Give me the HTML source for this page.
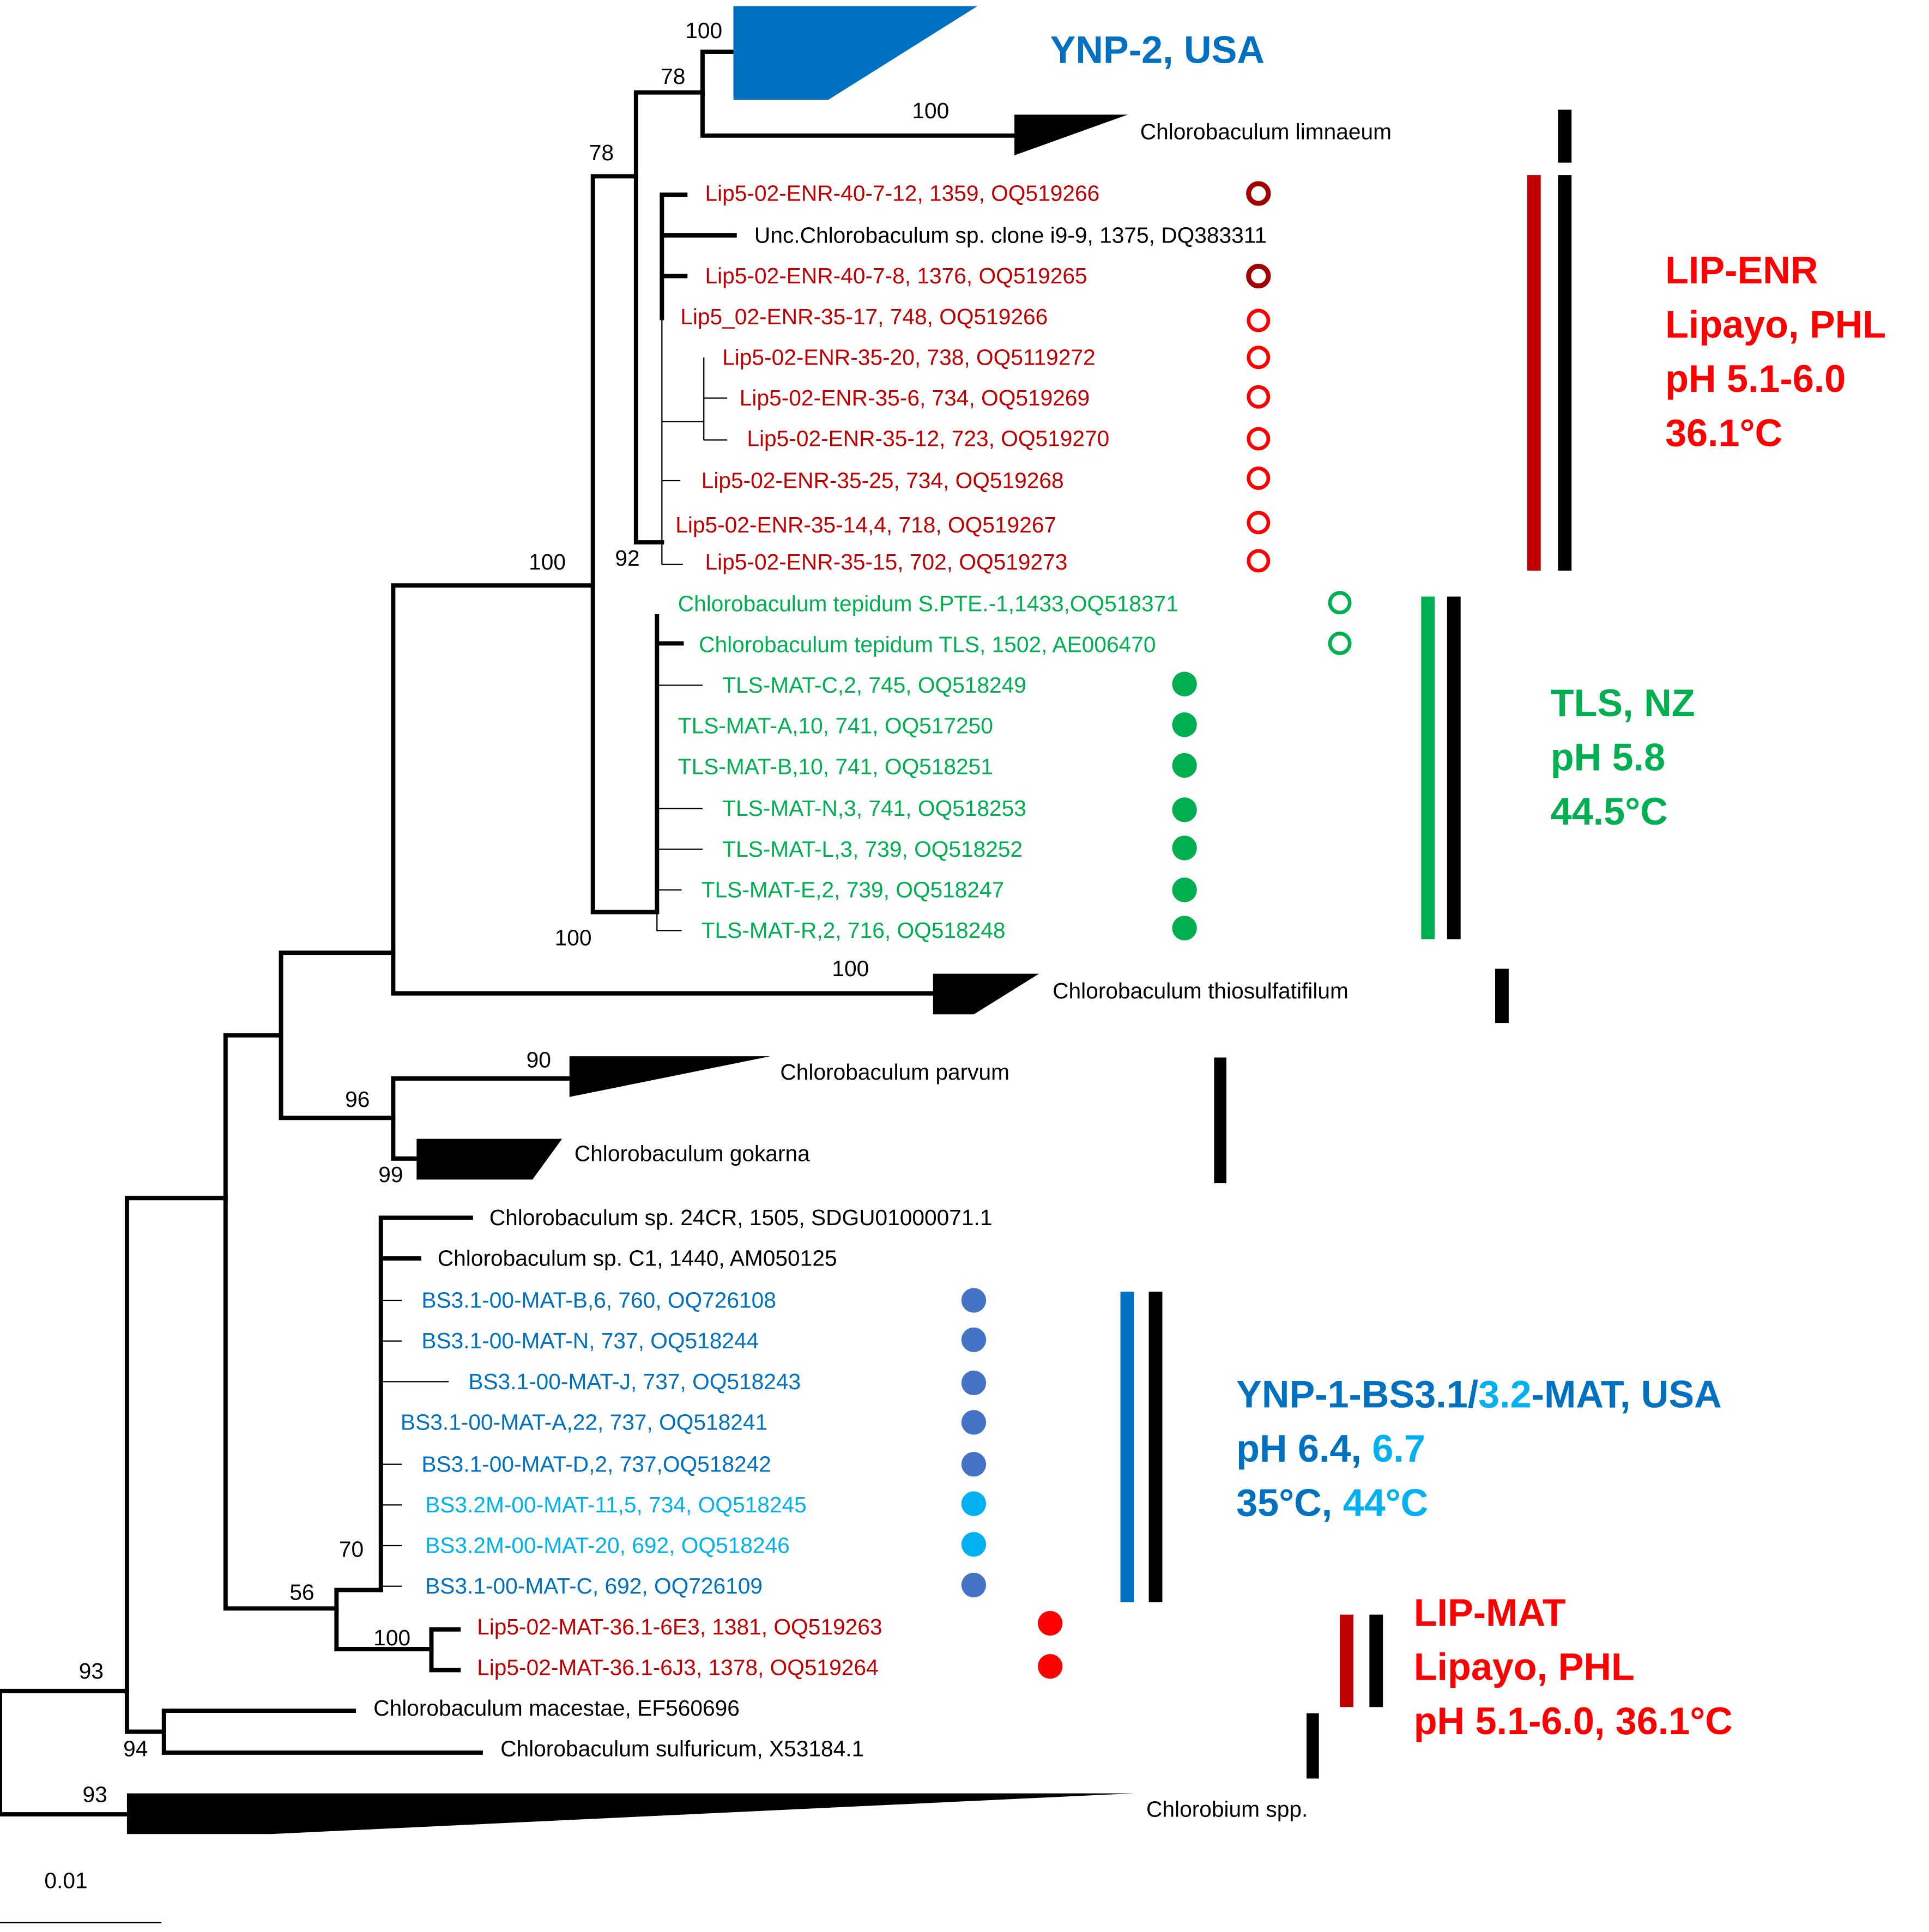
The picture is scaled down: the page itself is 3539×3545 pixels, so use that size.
<!DOCTYPE html>
<html><head><meta charset="utf-8"><style>html,body{margin:0;padding:0;background:#fff}svg{display:block}</style></head><body>
<svg width="3539" height="3545" viewBox="0 0 1565 1567.5" preserveAspectRatio="none" xmlns="http://www.w3.org/2000/svg" font-family="Liberation Sans, sans-serif">
<rect width="1565" height="1568" fill="#fff"/>
<g stroke="#000" stroke-width="3.5" fill="none" stroke-linecap="square">
<path d="M0,1372V1472M0,1372H103M0,1472H103"/>
<path d="M103,972V1405M103,972H183M103,1405H133M133,1388V1422M133,1388H287M133,1422H390"/>
<path d="M183,840V1305M183,840H228M183,1305H273"/>
<path d="M228,773V907M228,773H319M228,907H319"/>
<path d="M319,475V806M319,475H481M319,806H757"/>
<path d="M481,143V740M481,143H516M481,740H533"/>
<path d="M516,75V440M516,75H570M516,440H537"/>
<path d="M570,42V110M570,42H595M570,110H823"/>
<path d="M537,158V258M537,158H556M537,191H596M537,224H556"/>
<path d="M533,500V522M533,522H553"/>
<path d="M319,875V940M319,875H462M319,940H338"/>
<path d="M273,1290V1338M273,1290H309M273,1338H350"/>
<path d="M309,988V1290M309,988H382M309,1021H340"/>
<path d="M350,1322V1355M350,1322H372M350,1355H372"/>
<path d="M533,522V740"/>
</g>
<g stroke="#000" stroke-width="1" fill="none">
<path d="M537,258V458M537,342H571M571,290V357M571,323H590M571,357H590M537,390H552M537,458H554"/>
<path d="M533,740V755H553M533,556H570M533,656H570M533,689H570M533,722H553"/>
<path d="M309,1055H326M309,1088H326M309,1121H364M309,1188H326M309,1221H326M309,1254H326M309,1287H326"/>
<path d="M0,1560H131"/>
</g>
<polygon points="595,5 793,5 672,81 595,81" fill="#0070C0"/>
<polygon points="823,93 915,93 823,126" fill="#000"/>
<polygon points="757,790 843,790 790,823 757,823" fill="#000"/>
<polygon points="462,857 625,857 462,890" fill="#000"/>
<polygon points="338,924 456,924 432,957 338,957" fill="#000"/>
<polygon points="103,1455 920,1455 220,1488 103,1488" fill="#000"/>
<g font-size="18" fill="#000">
<text x="556" y="31">100</text><text x="536" y="68">78</text><text x="740" y="96">100</text>
<text x="478" y="130">78</text><text x="429" y="462">100</text><text x="499" y="459">92</text>
<text x="450" y="767">100</text><text x="675" y="792">100</text><text x="427" y="866">90</text>
<text x="280" y="898">96</text><text x="307" y="959">99</text><text x="275" y="1263">70</text>
<text x="235" y="1298">56</text><text x="303" y="1335">100</text><text x="64" y="1362">93</text>
<text x="100" y="1425">94</text><text x="67" y="1462">93</text><text x="36" y="1532">0.01</text>
<text x="925" y="113">Chlorobaculum limnaeum</text>
<text x="612" y="197">Unc.Chlorobaculum sp. clone i9-9, 1375, DQ383311</text>
<text x="854" y="810">Chlorobaculum thiosulfatifilum</text>
<text x="633" y="876">Chlorobaculum parvum</text>
<text x="466" y="942">Chlorobaculum gokarna</text>
<text x="397" y="994">Chlorobaculum sp. 24CR, 1505, SDGU01000071.1</text>
<text x="355" y="1027">Chlorobaculum sp. C1, 1440, AM050125</text>
<text x="303" y="1392">Chlorobaculum macestae, EF560696</text>
<text x="406" y="1425">Chlorobaculum sulfuricum, X53184.1</text>
<text x="930" y="1474">Chlorobium spp.</text>
</g>
<g font-size="18" fill="#C00000">
<text x="572" y="163">Lip5-02-ENR-40-7-12, 1359, OQ519266</text>
<text x="572" y="230">Lip5-02-ENR-40-7-8, 1376, OQ519265</text>
<text x="552" y="263">Lip5_02-ENR-35-17, 748, OQ519266</text>
<text x="586" y="296">Lip5-02-ENR-35-20, 738, OQ5119272</text>
<text x="600" y="329">Lip5-02-ENR-35-6, 734, OQ519269</text>
<text x="606" y="362">Lip5-02-ENR-35-12, 723, OQ519270</text>
<text x="569" y="396">Lip5-02-ENR-35-25, 734, OQ519268</text>
<text x="548" y="432">Lip5-02-ENR-35-14,4, 718, OQ519267</text>
<text x="572" y="462">Lip5-02-ENR-35-15, 702, OQ519273</text>
<text x="387" y="1326">Lip5-02-MAT-36.1-6E3, 1381, OQ519263</text>
<text x="387" y="1359">Lip5-02-MAT-36.1-6J3, 1378, OQ519264</text>
</g>
<g font-size="18" fill="#00B050">
<text x="550" y="496">Chlorobaculum tepidum S.PTE.-1,1433,OQ518371</text>
<text x="567" y="529">Chlorobaculum tepidum TLS, 1502, AE006470</text>
<text x="586" y="562">TLS-MAT-C,2, 745, OQ518249</text>
<text x="550" y="595">TLS-MAT-A,10, 741, OQ517250</text>
<text x="550" y="628">TLS-MAT-B,10, 741, OQ518251</text>
<text x="586" y="662">TLS-MAT-N,3, 741, OQ518253</text>
<text x="586" y="695">TLS-MAT-L,3, 739, OQ518252</text>
<text x="569" y="728">TLS-MAT-E,2, 739, OQ518247</text>
<text x="569" y="761">TLS-MAT-R,2, 716, OQ518248</text>
</g>
<g font-size="18" fill="#0070C0">
<text x="342" y="1061">BS3.1-00-MAT-B,6, 760, OQ726108</text>
<text x="342" y="1094">BS3.1-00-MAT-N, 737, OQ518244</text>
<text x="380" y="1127">BS3.1-00-MAT-J, 737, OQ518243</text>
<text x="325" y="1160">BS3.1-00-MAT-A,22, 737, OQ518241</text>
<text x="342" y="1194">BS3.1-00-MAT-D,2, 737,OQ518242</text>
<text x="345" y="1227" fill="#00B0F0">BS3.2M-00-MAT-11,5, 734, OQ518245</text>
<text x="345" y="1260" fill="#00B0F0">BS3.2M-00-MAT-20, 692, OQ518246</text>
<text x="345" y="1293">BS3.1-00-MAT-C, 692, OQ726109</text>
</g>
<g fill="none" stroke-width="3">
<circle cx="1021" cy="157" r="8" stroke="#A00000" stroke-width="4"/>
<circle cx="1021" cy="224" r="8" stroke="#A00000" stroke-width="4"/>
<g stroke="#F00"><circle cx="1021" cy="260" r="8"/><circle cx="1021" cy="290" r="8"/><circle cx="1021" cy="322" r="8"/><circle cx="1021" cy="356" r="8"/><circle cx="1021" cy="388" r="8"/><circle cx="1021" cy="424" r="8"/><circle cx="1021" cy="455" r="8"/></g>
<g stroke="#00B050"><circle cx="1087" cy="489" r="8"/><circle cx="1087" cy="522" r="8"/></g>
</g>
<g fill="#00B050"><circle cx="961" cy="555" r="10"/><circle cx="961" cy="588" r="10"/><circle cx="961" cy="621" r="10"/><circle cx="961" cy="657" r="10"/><circle cx="961" cy="688" r="10"/><circle cx="961" cy="722" r="10"/><circle cx="961" cy="753" r="10"/></g>
<g fill="#4472C4"><circle cx="790" cy="1055" r="10"/><circle cx="790" cy="1087" r="10"/><circle cx="790" cy="1122" r="10"/><circle cx="790" cy="1154" r="10"/><circle cx="790" cy="1188" r="10"/><circle cx="790" cy="1286" r="10"/></g>
<g fill="#00B0F0"><circle cx="790" cy="1220" r="10"/><circle cx="790" cy="1253" r="10"/></g>
<g fill="#F00"><circle cx="852" cy="1317" r="10"/><circle cx="852" cy="1352" r="10"/></g>
<rect x="1264" y="89" width="11" height="43" fill="#000"/>
<rect x="1239" y="142" width="11" height="321" fill="#C00000"/>
<rect x="1264" y="142" width="11" height="321" fill="#000"/>
<rect x="1153" y="484" width="11" height="278" fill="#00B050"/>
<rect x="1174" y="484" width="11" height="278" fill="#000"/>
<rect x="1213" y="786" width="11" height="44" fill="#000"/>
<rect x="985" y="858" width="10" height="102" fill="#000"/>
<rect x="909" y="1048" width="11" height="252" fill="#0070C0"/>
<rect x="932" y="1048" width="11" height="252" fill="#000"/>
<rect x="1087" y="1310" width="11" height="75" fill="#C00000"/>
<rect x="1111" y="1310" width="11" height="75" fill="#000"/>
<rect x="1060" y="1390" width="10" height="53" fill="#000"/>
<g font-size="31" font-weight="bold">
<text x="852" y="51" fill="#0070C0">YNP-2, USA</text>
<g fill="#F00"><text x="1351" y="230">LIP-ENR</text><text x="1351" y="274">Lipayo, PHL</text><text x="1351" y="318">pH 5.1-6.0</text><text x="1351" y="362">36.1°C</text></g>
<g fill="#00B050"><text x="1258" y="581">TLS, NZ</text><text x="1258" y="625">pH 5.8</text><text x="1258" y="669">44.5°C</text></g>
<g fill="#0070C0"><text x="1003" y="1142">YNP-1-BS3.1/<tspan fill="#00B0F0">3.2</tspan>-MAT, USA</text><text x="1003" y="1186">pH 6.4, <tspan fill="#00B0F0">6.7</tspan></text><text x="1003" y="1230">35°C, <tspan fill="#00B0F0">44°C</tspan></text></g>
<g fill="#F00"><text x="1147" y="1319">LIP-MAT</text><text x="1147" y="1363">Lipayo, PHL</text><text x="1147" y="1407">pH 5.1-6.0, 36.1°C</text></g>
</g>
</svg>
</body></html>
